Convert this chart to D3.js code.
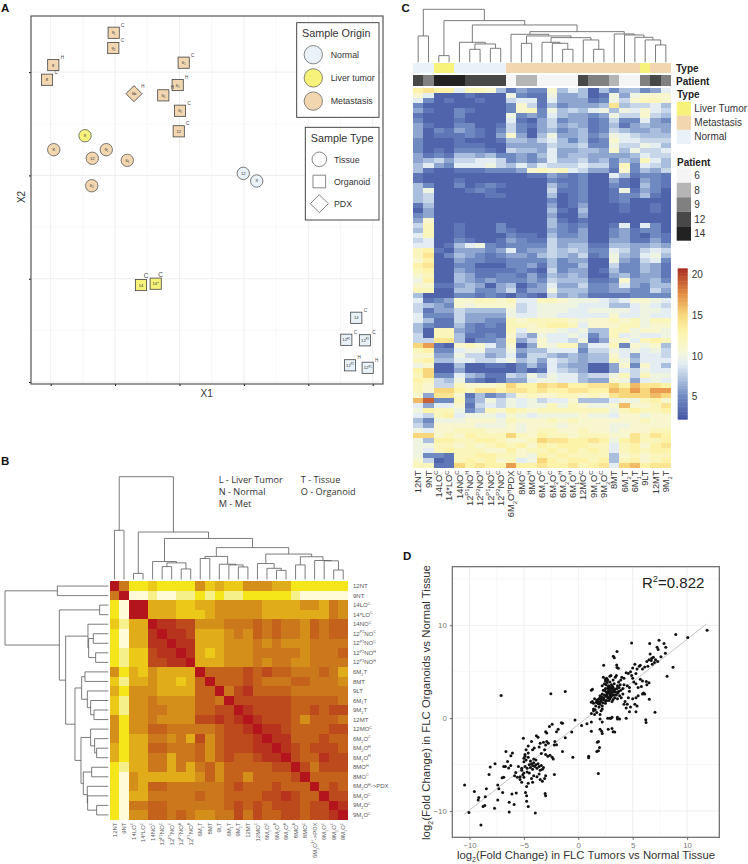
<!DOCTYPE html>
<html>
<head>
  <meta charset="utf-8">
  <title>FLC organoids figure</title>
  <script src="https://d3js.org/d3.v7.min.js"></script>
  <style>
    body { margin: 0; background: #fff; }
    text { font-family: "Liberation Sans", Arial, sans-serif; }
    .panel { font-size: 11.5px; font-weight: bold; fill: #111; }
    .tree { fill: none; stroke: #5a5a5a; stroke-width: 0.8; }
  </style>
</head>
<body>
<div id="chart"></div>
<script>
// ---- panel A: MDS scatter
const mdsTissue = [
  { label: "9", origin: "Liver tumor", x: 0.533, y: 2.384 },
  { label: "8", origin: "Metastasis", x: 0.047, y: 2.249 },
  { label: "12", origin: "Metastasis", x: 0.646, y: 2.166 },
  { label: "9_{1}", origin: "Metastasis", x: 0.863, y: 2.249 },
  { label: "6_{1}", origin: "Metastasis", x: 1.189, y: 2.146 },
  { label: "6_{2}", origin: "Metastasis", x: 0.637, y: 1.9 },
  { label: "12", origin: "Normal", x: 2.99, y: 2.02 },
  { label: "9", origin: "Normal", x: 3.199, y: 1.946 }
];
const mdsOrganoid = [
  { label: "9_{1}", sup: "C", origin: "Metastasis", x: 0.978, y: 3.381 },
  { label: "9_{2}", sup: "C", origin: "Metastasis", x: 0.972, y: 3.233 },
  { label: "8", sup: "H", origin: "Metastasis", x: 0.04, y: 3.068 },
  { label: "8", sup: "C", origin: "Metastasis", x: -0.057, y: 2.926 },
  { label: "6_{1}", sup: "C", origin: "Metastasis", x: 2.065, y: 3.091 },
  { label: "6_{1}", sup: "H", origin: "Metastasis", x: 1.972, y: 2.875 },
  { label: "6_{3}", sup: "H", origin: "Metastasis", x: 1.748, y: 2.775 },
  { label: "6_{2}", sup: "C", origin: "Metastasis", x: 2.008, y: 2.626 },
  { label: "12", sup: "C", origin: "Metastasis", x: 1.988, y: 2.427 },
  { label: "14", sup: "C", origin: "Liver tumor", x: 1.402, y: 0.939 },
  { label: "14*", sup: "C", origin: "Liver tumor", x: 1.63, y: 0.952 },
  { label: "14", sup: "C", origin: "Normal", x: 4.745, y: 0.622 },
  { label: "12^{P1}", sup: "C", origin: "Normal", x: 4.59, y: 0.409 },
  { label: "12^{P2}", sup: "C", origin: "Normal", x: 4.88, y: 0.404 },
  { label: "12^{P2}", sup: "H", origin: "Normal", x: 4.648, y: 0.162 },
  { label: "12^{P1}", sup: "H", origin: "Normal", x: 4.922, y: 0.138 }
];
const mdsPdx = [{ label: "6b", sup: "H", origin: "Metastasis", x: 1.293, y: 2.791 }];
const originNames = ["Normal", "Liver tumor", "Metastasis"];
const typeNames = ["Tissue", "Organoid", "PDX"];

// ---- panel B: correlation heatmap (levels 0 pale .. 10 dark red)
const corrLabels = ["12NT", "9NT", "14LO^{C}", "14*LO^{C}", "14NO^{C}", "12^{P2}NO^{C}", "12^{P1}NO^{C}", "12^{P2}NO^{H}", "12^{P1}NO^{H}",
  "6M_{2}T", "8MT", "9LT", "6M_{1}T", "9M_{2}T", "12MT", "12MO^{C}", "6M_{2}O^{C}", "6M_{2}O^{H}", "6M_{1}O^{H}", "8MO^{H}", "8MO^{C}",
  "6M_{2}O^{H}->PDX", "6M_{1}O^{C}", "9M_{2}O^{C}", "9M_{1}O^{C}"];
const corrLevels = [
  [10,6,2,2,3,2,2,2,2,5,3,4,3,3,5,5,5,4,4,2,2,2,2,2,2],
  [6,10,0,0,1,0,0,1,1,2,1,2,1,1,2,2,2,2,2,1,0,0,0,0,0],
  [2,0,10,10,4,4,4,3,3,4,4,5,5,5,5,5,4,4,4,4,5,5,4,6,5],
  [2,0,10,10,4,4,4,3,3,3,4,5,5,5,5,5,4,4,4,4,4,4,4,6,5],
  [3,1,4,4,10,9,9,8,8,5,5,5,6,6,6,7,6,7,6,6,5,7,6,7,7],
  [2,0,4,4,9,10,9,9,8,4,4,4,5,6,5,7,6,7,6,6,5,7,6,7,7],
  [2,0,4,4,9,9,10,9,9,4,4,4,5,5,5,6,5,6,5,5,5,6,6,6,6],
  [2,1,3,3,8,9,9,10,9,4,3,4,5,5,5,6,6,6,6,6,5,6,6,6,7],
  [2,1,3,3,8,8,9,9,10,4,4,4,5,5,5,6,5,6,6,5,5,6,6,6,6],
  [5,2,4,3,5,4,4,4,4,10,7,7,7,7,8,7,8,7,7,6,6,6,7,6,4],
  [3,1,4,4,5,4,4,3,4,7,10,7,7,7,8,7,6,6,6,7,7,6,6,6,5],
  [4,2,5,5,5,4,4,4,4,7,7,10,6,8,9,7,7,7,7,6,6,6,6,6,6],
  [3,1,5,5,6,5,5,5,5,7,7,6,10,8,8,8,8,8,8,7,7,7,7,7,6],
  [3,1,5,5,6,6,5,5,5,7,7,8,8,10,9,8,8,8,8,7,7,8,7,8,8],
  [5,2,5,5,6,5,5,5,5,8,8,9,8,9,10,9,8,8,8,7,5,7,7,7,6],
  [5,2,5,5,7,7,6,6,6,6,6,7,8,8,9,10,9,9,8,7,7,7,7,8,8],
  [5,2,4,4,6,6,5,6,4,8,5,7,8,8,8,9,10,9,9,7,7,7,8,7,7],
  [4,2,4,4,7,7,6,6,6,7,5,7,8,8,8,9,9,10,9,8,7,8,8,8,7],
  [4,2,4,4,6,6,4,6,6,7,5,7,8,7,7,8,9,9,10,8,7,7,9,8,8],
  [2,1,4,4,6,6,4,6,4,6,7,5,7,7,7,7,7,8,8,10,8,6,8,8,8],
  [2,0,5,4,4,4,4,4,4,5,7,5,7,7,5,7,7,7,7,8,10,7,7,7,7],
  [2,0,5,4,7,7,6,6,6,6,6,6,7,8,7,7,7,8,7,7,7,10,7,8,7],
  [2,0,4,4,6,6,6,6,6,7,6,6,7,7,7,7,8,8,9,8,7,7,10,8,8],
  [2,0,6,6,7,7,6,6,6,6,6,6,7,8,7,8,7,8,8,8,7,8,8,10,9],
  [2,0,5,5,7,7,6,7,6,5,5,6,6,8,6,8,7,7,8,8,7,8,8,9,10]
];
const corrColors = ["#fffbd8","#f5f08a","#f4e619","#ecc818","#e0ac1a","#d48f1b","#cb781c","#c4621c","#bd4a1c","#b7331d","#b4141c"];
// trees are [height, left, right], leaves are the column index
const corrTopTree = [303, [145, 0, 1], [140, [18, 2, 3], [121, [53, 4, [49, [38, 5, 6], [31, 7, 8]]],
  [94, [68, [62, 9, 10], [45, 11, [43, 12, [37, 13, 14]]]],
    [75, [47, 15, [33, 16, [27, 17, 18]]], [67, [43, 19, 20], [56, 21, [55, 22, [28, 23, 24]]]]]]]]];
const corrLeftTree = [310, [153, 0, 1], [147, [26, 2, 3], [128, [61, 4, [59, [45, 5, 6], [38, 7, 8]]],
  [100, [80, [70, 9, 10], [63, 11, [53, 12, [43, 13, 14]]]],
    [82, [53, 15, [41, 16, [35, 17, 18]]], [75, [50, 19, 20], [63, 21, [62, 22, [35, 23, 24]]]]]]]]];
const abbrevLeft = ["L - Liver Tumor", "N - Normal", "M - Met"];
const abbrevRight = ["T - Tissue", "O - Organoid"];

// ---- panel C: expression heatmap
const exprLabels = ["12NT", "9NT", "14LO^{C}", "14*LO^{C}", "14NO^{C}", "12^{P1}NO^{H}", "12^{P2}NO^{H}", "12^{P1}NO^{C}", "12^{P2}NO^{C}",
  "6M_{2}O^{H}PDX", "8MO^{C}", "8MO^{H}", "6M_{1}O^{C}", "6M_{2}O^{C}", "6M_{2}O^{H}", "6M_{1}O^{H}", "12MO^{C}", "9M_{1}O^{C}", "9M_{2}O^{C}",
  "8MT", "6M_{2}T", "6M_{1}T", "9LT", "12MT", "9M_{2}T"];
const exprType = ["Normal","Normal","Liver Tumor","Liver Tumor","Normal","Normal","Normal","Normal","Normal",
  "Metastasis","Metastasis","Metastasis","Metastasis","Metastasis","Metastasis","Metastasis","Metastasis","Metastasis","Metastasis",
  "Metastasis","Metastasis","Metastasis","Liver Tumor","Metastasis","Metastasis"];
const exprPatient = [12,9,14,14,14,12,12,12,12,6,8,8,6,6,6,6,12,9,9,8,6,6,9,12,9];
const exprTree = [159, [79, 0, 1], [125, [20, 2, 3], [112, [60, 4, [55, [39, 5, 6], [42, 7, 8]]],
  [92, [84, 9, [79, [57, 10, 11], [74, [60, 12, [57, 13, [39, 14, 15]]], [67, 16, [39, 17, 18]]]]],
    [85, 19, [82, 20, [75, 21, [67, 22, [52, 23, 24]]]]]]]]];
const typeLegend = ["Liver Tumor", "Metastasis", "Normal"];
const patientLegend = [6, 8, 9, 12, 14];
const colorbarTicks = [5, 10, 15, 20];
const exprRows = [
  [13,14,13,13,9,12,12,11,7,4,6,5,5,11,7,9,7,3,7,5,7,7,5,6,9],
  [11,9,3,3,3,4,3,3,3,10,5,4,4,10,6,6,7,3,4,10,6,10,11,11,11],
  [9,5,3,4,3,3,4,3,3,8,9,9,4,9,6,6,6,4,5,10,8,11,12,12,11],
  [5,3,3,3,3,3,3,3,3,5,11,8,4,7,5,6,6,6,7,14,7,8,8,9,7],
  [6,4,3,3,5,4,3,3,3,5,11,12,5,10,7,8,7,9,10,7,10,9,11,9,8],
  [4,3,3,3,5,3,3,3,3,10,5,6,5,9,7,6,6,5,6,10,8,8,11,8,7],
  [5,3,3,3,4,3,3,3,3,9,4,3,6,8,5,6,6,4,5,8,5,5,9,6,5],
  [6,4,3,3,5,5,3,3,4,8,5,4,6,8,6,7,6,4,5,7,4,6,7,6,6],
  [6,3,5,4,6,5,4,3,5,8,5,3,6,7,5,6,7,4,5,8,7,6,6,7,6],
  [6,3,4,4,4,5,4,3,6,11,6,3,7,10,6,6,7,5,6,10,9,8,7,7,7],
  [5,3,3,3,4,3,3,3,4,7,7,6,8,9,7,5,7,4,5,11,9,9,8,8,8],
  [5,3,3,3,4,4,4,3,3,6,6,6,6,8,7,7,8,5,5,10,8,8,10,9,7],
  [5,3,4,3,5,5,5,4,3,8,7,7,6,9,6,6,7,7,6,11,7,10,8,8,9],
  [6,4,5,4,7,7,6,7,5,5,6,5,7,9,6,7,7,6,6,6,6,7,9,8,8],
  [6,7,8,6,8,8,9,9,8,5,6,5,6,9,7,7,8,6,7,5,7,6,12,9,7],
  [7,9,6,5,9,9,9,10,8,7,9,7,9,8,8,8,9,8,8,5,12,5,9,8,7],
  [7,4,3,3,4,4,4,5,5,5,6,11,12,11,12,9,8,6,6,4,11,5,7,6,8],
  [4,3,3,3,3,3,3,3,3,3,3,4,4,6,5,4,5,3,3,9,7,4,5,5,4],
  [4,3,3,3,4,3,3,3,3,3,3,3,3,5,4,4,5,3,3,6,4,3,6,5,4],
  [7,5,3,3,5,3,4,5,4,3,3,3,3,7,5,4,5,3,3,5,4,3,7,5,4],
  [7,10,3,3,3,4,5,4,3,3,3,3,3,8,4,4,5,3,3,4,10,4,6,5,3],
  [7,8,3,3,3,3,3,4,4,3,3,3,3,7,3,4,5,3,3,4,5,5,7,4,3],
  [7,8,3,3,3,3,3,3,3,3,3,3,3,5,3,4,5,3,3,4,5,3,3,3,3],
  [4,7,3,3,3,3,3,3,3,3,3,3,3,6,3,4,6,3,3,3,4,3,3,4,3],
  [3,6,3,3,3,3,3,3,3,3,3,3,3,7,4,3,7,3,3,3,4,3,3,4,3],
  [5,6,3,3,3,3,3,3,3,3,3,3,3,6,3,3,6,3,3,3,3,3,3,3,3],
  [6,11,3,3,3,3,3,3,3,3,3,3,3,7,4,3,4,3,3,3,3,3,3,3,3],
  [8,12,3,3,4,3,3,3,5,3,3,3,3,7,5,4,5,3,3,4,9,3,9,5,3],
  [7,12,3,3,4,3,3,3,5,4,3,3,3,6,5,4,6,3,3,5,6,4,5,5,3],
  [9,12,3,3,4,3,3,3,3,5,4,4,3,7,5,5,6,3,3,5,6,4,3,5,4],
  [8,9,3,3,5,4,3,3,4,6,5,4,4,8,6,6,6,3,3,6,6,4,4,6,4],
  [9,9,3,4,7,9,10,5,4,5,5,5,5,8,6,7,7,4,4,7,7,6,6,7,6],
  [12,13,4,3,6,6,6,5,6,9,5,6,6,8,7,8,7,5,5,9,8,6,8,9,8],
  [12,14,3,5,7,6,5,4,5,6,6,5,7,8,7,6,8,4,5,10,7,6,9,10,7],
  [11,13,3,3,6,5,5,4,4,5,5,5,5,7,5,6,6,3,3,10,6,5,8,9,5],
  [13,14,3,3,5,5,3,3,3,5,5,6,4,7,5,5,7,3,3,8,5,5,7,6,4],
  [12,13,3,3,6,5,4,4,4,4,5,4,3,8,5,6,6,3,4,7,5,5,7,6,4],
  [11,12,3,3,7,6,4,4,5,5,4,6,4,7,6,7,6,3,3,6,7,5,6,6,4],
  [10,13,3,3,7,6,5,6,5,5,5,6,5,8,7,7,7,4,4,5,11,6,6,7,5],
  [11,11,4,4,6,7,6,3,6,7,3,5,6,9,6,6,8,5,5,6,9,6,5,7,7],
  [12,12,3,3,7,7,5,5,6,8,4,6,6,10,7,7,7,5,5,6,6,5,5,8,6],
  [7,3,3,3,5,5,4,5,4,3,5,4,3,8,6,7,6,4,4,4,4,5,5,5,5],
  [9,4,5,6,11,11,12,12,11,12,9,9,12,12,11,10,10,10,9,8,9,11,11,10,9],
  [8,7,6,5,11,10,11,11,11,11,8,9,10,10,10,10,9,9,9,7,7,9,10,9,8],
  [8,4,6,6,8,7,7,7,7,10,8,9,10,10,10,9,9,10,10,10,10,9,10,10,9],
  [9,5,5,5,8,6,6,6,6,10,9,9,10,10,9,9,9,9,9,11,9,9,10,9,9],
  [9,7,4,4,8,6,6,5,5,12,11,12,12,12,12,11,10,11,11,12,11,12,10,12,12],
  [7,5,4,4,7,5,4,5,4,12,12,11,12,13,13,12,9,11,11,11,12,12,10,11,11],
  [7,3,12,12,6,5,4,4,4,12,9,11,11,11,10,9,10,7,7,12,12,10,11,11,10],
  [8,3,12,12,7,4,4,5,4,11,8,6,10,9,9,10,9,5,7,12,9,10,9,9,10],
  [8,8,14,14,7,3,5,5,6,12,6,8,11,9,9,8,10,4,6,11,11,9,12,13,12],
  [15,17,4,3,11,12,11,9,6,11,3,6,11,10,12,12,6,9,9,12,5,11,10,11,7],
  [12,13,5,5,9,10,10,7,7,10,6,7,7,9,9,9,5,8,8,10,9,10,9,10,8],
  [11,11,6,6,10,8,8,6,7,9,5,8,8,7,6,7,6,7,7,11,9,6,9,9,8],
  [12,13,7,7,9,9,8,8,9,10,7,8,6,9,8,7,6,7,7,12,10,7,9,9,9],
  [10,11,3,3,7,3,3,4,4,3,5,7,5,9,7,6,6,3,3,6,11,5,11,9,7],
  [13,15,3,3,6,3,3,3,3,3,5,3,4,9,8,7,6,3,3,6,9,8,10,9,9],
  [12,15,5,5,9,7,6,4,4,8,7,10,8,10,9,9,7,8,8,10,12,8,12,10,10],
  [13,12,8,7,10,5,4,3,4,6,6,9,10,10,9,9,7,6,6,11,10,6,9,10,9],
  [12,11,8,8,12,11,11,11,12,15,13,13,15,14,15,13,13,14,14,15,13,16,14,14,13],
  [12,11,15,15,13,12,14,14,13,14,14,13,14,13,13,14,14,13,13,16,15,17,15,17,17],
  [11,6,14,14,11,4,7,5,6,8,11,12,11,11,12,12,11,12,11,14,15,15,15,16,15],
  [16,19,5,5,12,5,7,10,8,10,9,10,8,9,9,11,7,7,7,9,10,10,12,13,11],
  [9,6,9,9,11,4,8,9,8,10,9,10,10,12,10,12,11,10,10,11,16,11,11,12,14],
  [10,13,12,12,10,5,7,12,11,13,12,11,12,12,12,12,12,12,12,10,12,13,12,12,13],
  [9,8,12,13,9,10,10,10,9,11,10,9,10,10,10,10,11,10,10,9,11,11,10,11,11],
  [7,5,10,10,10,11,11,11,10,12,11,11,11,12,11,12,11,11,11,11,11,11,12,11,11],
  [8,6,11,11,11,11,10,10,10,11,10,11,11,11,10,11,11,11,11,10,10,11,11,11,11],
  [10,9,11,11,12,12,12,11,11,11,10,11,12,12,11,11,12,11,11,10,11,11,11,12,12],
  [15,15,11,12,11,13,12,12,12,15,12,11,13,12,12,11,12,12,12,11,11,14,12,14,13],
  [10,7,13,13,12,12,13,13,12,11,11,12,15,14,14,13,13,14,13,10,13,14,12,12,13],
  [10,10,12,12,11,12,11,12,13,12,13,11,13,12,13,13,13,12,12,9,12,13,11,13,14],
  [10,9,12,13,12,12,12,11,11,13,11,12,12,13,12,13,12,13,12,9,12,13,12,13,13],
  [10,5,5,4,12,12,13,13,12,12,11,10,13,12,13,12,12,12,12,7,11,12,11,12,12],
  [11,8,3,4,12,13,12,13,11,12,9,10,15,13,12,13,13,12,13,7,12,13,11,12,13],
  [12,12,4,4,15,13,14,13,13,17,13,13,14,13,13,14,12,13,14,9,15,16,13,14,14]
];

// ---- panel D: fold change scatter, [tumor, organoid]
const foldChange = [
  [11.84,9.46],[10.06,8.67],[8.96,9.0],[7.42,8.39],[6.56,8.03],[4.9,8.1],[7.88,8.03],[8.04,7.63],[7.24,7.63],[7.34,7.38],[8.0,6.99],[8.71,5.48],[8.16,4.52],
  [3.56,7.17],[3.22,6.67],[3.31,6.49],[2.33,5.7],[3.53,5.73],[3.56,5.45],[3.68,5.38],[-7.09,2.44],[-2.52,2.62],[-1.2,2.87],[7.05,0.65],[6.2,-0.18],[6.23,-0.47],[6.53,2.04],[1.84,-5.95],
  [6.75,6.45],[6.9,6.56],[6.6,6.9],[6.5,6.3],[6.3,6.1],[6.7,6.2],[7.1,6.3],[7.0,6.0],[6.4,5.6],[6.1,5.5],[5.9,5.3],[6.8,5.8],[7.3,6.1],[7.6,6.6],
  [1.2,1.7],[1.3,1.8],[1.4,1.6],[1.2,3.0],[1.3,3.1],[1.5,2.1],[1.4,1.0],[1.2,0.5],[1.5,0.4],[1.4,0.8],[1.6,1.3],[1.7,1.9],[1.8,2.0],[1.9,1.7],[2.0,2.4],[2.1,2.1],[2.0,1.5],[1.9,1.2],[2.1,1.8],[2.2,2.6],
  [2.3,2.0],[2.3,3.0],[2.2,3.5],[2.4,3.7],[2.5,4.2],[2.6,4.3],[2.5,3.2],[2.6,2.8],[2.4,2.5],[2.7,2.2],[2.6,1.9],[2.5,1.6],[2.8,1.9],[2.9,2.5],[2.7,3.2],[2.8,3.5],[2.9,3.9],[3.0,4.6],[2.7,4.1],[2.9,4.5],
  [3.1,3.2],[3.2,2.8],[3.0,2.3],[3.1,1.8],[3.2,2.0],[3.3,2.5],[3.4,3.1],[3.3,3.7],[3.4,4.4],[3.5,4.6],[3.6,3.5],[3.7,2.9],[3.5,2.5],[3.6,2.1],[3.8,2.4],[3.9,3.0],[3.7,3.9],[3.9,4.1],[4.0,4.4],[4.1,3.2],
  [4.2,3.6],[4.1,2.6],[4.3,1.8],[4.5,1.5],[4.4,1.1],[4.6,2.2],[4.7,2.9],[4.5,3.5],[4.4,4.9],[4.6,4.8],[4.8,5.0],[4.9,4.6],[5.0,5.4],[5.0,4.3],[5.1,3.9],[5.2,5.8],[5.3,4.8],[5.4,5.3],[5.3,3.7],[5.5,3.3],
  [5.6,5.6],[5.7,5.7],[5.8,3.4],[5.9,4.0],[6.0,2.7],[6.1,2.6],[5.9,2.6],[5.5,2.4],[5.3,2.2],[5.0,2.1],[5.2,1.5],[5.4,1.3],[5.3,0.7],[4.8,1.2],[4.7,0.7],[4.2,1.5],[4.4,0.0],[3.6,-0.1],[3.8,-0.1],[3.0,0.0],
  [2.9,0.0],[3.1,0.1],[2.7,0.0],[3.6,0.1],[2.1,0.8],[2.0,0.4],[2.2,1.0],[2.0,-0.1],[2.2,-0.4],[6.3,3.6],[6.5,3.8],[6.25,3.95],[5.7,4.2],[4.7,3.3],[4.2,4.3],[3.2,4.1],[2.45,2.95],[2.55,2.35],[2.65,2.6],[2.75,2.9],
  [2.85,3.1],[2.95,2.85],[3.05,2.6],[3.15,3.4],[3.25,3.0],[2.35,2.2],[2.15,2.3],[2.05,1.95],[1.95,2.15],[1.85,1.55],[1.75,1.65],[1.65,1.7],[2.25,1.65],[2.45,1.9],[2.55,3.6],[2.65,3.85],[2.75,3.4],[2.85,2.7],[2.95,3.3],[3.05,3.6],
  [3.35,2.2],[3.45,2.8],[3.55,3.2],[3.65,2.7],[3.75,3.3],[3.85,3.6],[3.95,2.2],[2.3,4.4],[2.5,4.0],[2.2,1.3],[1.55,0.9],[1.7,0.6],[2.6,2.45],[2.7,2.75],[2.8,2.25],[2.9,2.1],[3.0,2.95],[3.1,2.45],[3.2,3.3],[3.3,2.9],
  [1.2,-0.4],[1.2,-1.4],[2.0,-1.2],[2.15,-1.4],[2.2,-1.65],[2.75,-1.2],[3.1,-1.1],[3.2,-1.45],[3.35,-1.5],[1.75,-2.6],[1.85,-2.5],[1.95,-3.15],[1.7,-3.6],[1.85,-3.5],[0.95,-4.1],[0.95,-4.25],[-0.5,-4.2],[0.8,-0.6],[0.3,-0.8],[-0.3,-0.2],
  [-0.6,-1.5],[-1.2,-2.1],[-1.45,-0.55],[-1.55,-0.5],[-1.45,-3.6],
  [-10.45,-7.2],[-10.05,-10.15],[-9.55,-7.9],[-9.15,-8.55],[-9.2,-8.8],[-8.95,-11.5],[-8.75,-9.5],[-8.6,-9.4],[-8.55,-8.45],[-8.45,-7.6],[-8.2,-6.05],[-8.1,-5.25],[-7.65,-4.9],[-7.7,-9.7],[-7.4,-8.8],[-7.4,-7.2],[-7.3,-7.6],[-6.95,-8.0],[-7.0,-6.4],[-6.85,-6.35],
  [-6.85,-5.2],[-6.7,-5.2],[-6.65,-3.6],[-6.5,-4.65],[-6.4,-5.35],[-6.35,-10.1],[-6.35,-9.05],[-6.2,-5.1],[-6.2,-4.05],[-6.05,-3.75],[-5.9,-9.3],[-5.7,-8.05],[-6.1,-8.15],[-5.75,-5.85],[-5.85,-6.2],[-5.6,-6.35],[-5.35,-6.6],[-5.35,-6.3],[-5.2,-6.9],[-5.1,-6.1],
  [-5.0,-6.35],[-5.05,-2.15],[-4.8,-3.4],[-4.6,-3.75],[-4.9,-4.1],[-5,-4.3],[-4.8,-4.5],[-4.6,-7.0],[-4.75,-7.35],[-4.85,-8.0],[-4.75,-8.35],[-4.75,-8.95],[-4.6,-9.5],[-3.95,-10.2],[-4.3,-2.5],[-4.2,-3.4],[-4.05,-3.2],[-3.85,-1.9],[-3.7,-2.05],[-3.5,-2.7],
  [-3.0,-1.45],[-2.9,-1.6],[-2.65,-0.9],[-2.4,-0.65],[-2.0,-1.45],[-1.85,-1.2],[-2.9,-2.5],[-2.75,-2.7],[-2.15,-2.5],[-2,-2.85],[-3.05,-8.1],[-3.0,-8.35],[-2.2,-6.05],
  [-4.9,-5.2],[-4.7,-5.4],[-4.5,-5.0],[-4.4,-5.3],[-4.3,-4.9],[-4.2,-5.1],[-4.2,-5.5],[-4.1,-4.8],[-4.0,-5.2],[-3.9,-5.0],[-3.8,-5.4],[-3.7,-4.9],[-3.9,-4.5],[-4.1,-4.4],[-4.4,-4.6],[-3.6,-5.2],[-3.5,-5.6],[-3.4,-5.1],[-3.3,-5.5],[-3.2,-5.3],
  [-3.6,-6.0],[-3.8,-6.3],[-4.1,-6.2],[-4.3,-6.5],[-3.5,-6.6],[-3.3,-6.8],[-3.1,-6.5],[-3.0,-6.2],[-4.2,-6.9],[-5.5,-5.2],[-5.2,-5.6],[-5.0,-5.9],[-4.7,-5.8],[-4.5,-5.9],[-3.0,-3.9],[-2.8,-4.1],[-2.6,-4.0],[-2.4,-4.2],[-2.3,-4.4],[-3.1,-3.4],
  [-3.4,-3.8],[-3.6,-3.1],[-3.2,-2.6],[-3.0,-2.9],[-2.2,-2.9],[-4.6,-4.2],[-5.0,-4.7],[-5.2,-5.4],[-4.9,-3.9],[-4.6,-3.0]
];
const fitLine = [[-10.5, -10.35], [11.8, 10.15]];

const originColor = d3.scaleOrdinal().domain(originNames).range(["#e8f2f8", "#f7f27a", "#f2d6b0"]);
const svg = d3.select("#chart").append("svg").attr("width", 748).attr("height", 864);

// writes "a_{b}c^{d}" as text with sub and superscripts
function richText(sel, str, small) {
  const parts = str.split(/([_^]\{[^}]*\})/).filter(s => s.length);
  let shift = 0;
  parts.forEach(p => {
    const m = p.match(/^([_^])\{(.*)\}$/);
    const t = sel.append("tspan");
    if (m) {
      const d = (m[1] === "^" ? -0.4 : 0.3) * small;
      t.attr("dy", d - shift).attr("font-size", small * 0.62).text(m[2]);
      shift = d;
    } else {
      t.attr("dy", -shift).text(p);
      shift = 0;
    }
  });
}

// tree = [height, left, right] in px-like units, pos(leaf), base(height)
function drawTree(g, tree, pos, base, vertical) {
  if (!Array.isArray(tree)) return { p: pos(tree), h: 0 };
  const a = drawTree(g, tree[1], pos, base, vertical);
  const b = drawTree(g, tree[2], pos, base, vertical);
  const h = tree[0];
  const pts = [[a.p, a.h], [a.p, h], [b.p, h], [b.p, b.h]];
  const line = d3.line().x(d => vertical ? d[0] : base(d[1])).y(d => vertical ? base(d[1]) : d[0]);
  g.append("path").attr("class", "tree").attr("d", line(pts));
  return { p: (a.p + b.p) / 2, h: h };
}

function panelLabel(t, x, y) {
  svg.append("text").attr("class", "panel").attr("x", x).attr("y", y).text(t);
}

// ---------- A
function drawA() {
  panelLabel("A", 1, 12);
  const x = d3.scaleLinear().domain([-0.306, 5.16]).range([31, 383]);
  const y = d3.scaleLinear().domain([-0.019, 3.543]).range([384, 16]);
  const g = svg.append("g");
  const xs = d3.range(0, 5.5, 0.5), ys = d3.range(0, 3.5, 0.5);
  g.selectAll(".vg").data(xs).join("line").attr("x1", d => x(d)).attr("x2", d => x(d)).attr("y1", 16).attr("y2", 384)
    .attr("stroke", "#eeeeee").attr("stroke-width", d => d % 1 ? 0.5 : 1);
  g.selectAll(".hg").data(ys).join("line").attr("y1", d => y(d)).attr("y2", d => y(d)).attr("x1", 31).attr("x2", 383)
    .attr("stroke", "#eeeeee").attr("stroke-width", d => d % 1 ? 0.5 : 1);
  g.append("g").attr("transform", "translate(0,384)").call(d3.axisBottom(x).tickValues(d3.range(0, 6)).tickSize(2).tickFormat(""))
    .call(a => a.select(".domain").remove());
  g.append("g").attr("transform", "translate(31,0)").call(d3.axisLeft(y).tickValues(d3.range(0, 4)).tickSize(2).tickFormat(""))
    .call(a => a.select(".domain").remove());
  g.append("rect").attr("x", 31).attr("y", 16).attr("width", 352).attr("height", 368).attr("fill", "none").attr("stroke", "#555").attr("stroke-width", 1.2);

  function marks(data, draw) {
    const s = g.append("g").selectAll("g").data(data).join("g").attr("transform", d => `translate(${x(d.x)},${y(d.y)})`);
    draw(s);
    s.append("text").attr("text-anchor", "middle").attr("y", 1.5).attr("font-size", 4.2).attr("fill", "#333")
      .each(function (d) { richText(d3.select(this), d.label, 4.2); });
    s.filter(d => d.sup).append("text").text(d => d.sup)
      .attr("x", d => d.origin === "Liver tumor" ? 5 : 9).attr("y", d => d.origin === "Liver tumor" ? -7 : -6)
      .attr("text-anchor", "middle").attr("fill", "#444").attr("font-size", d => d.origin === "Liver tumor" ? 6.5 : 4.5);
  }
  marks(mdsTissue, s => s.append("circle").attr("r", 6.2).attr("fill", d => originColor(d.origin)).attr("stroke", "#444").attr("stroke-width", 0.7));
  marks(mdsOrganoid, s => s.append("rect").attr("x", -5.6).attr("y", -5.6).attr("width", 11.2).attr("height", 11.2)
    .attr("fill", d => originColor(d.origin)).attr("stroke", "#444").attr("stroke-width", 0.8));
  marks(mdsPdx, s => s.append("path").attr("d", d3.symbol(d3.symbolSquare, 128)()).attr("transform", "rotate(45)")
    .attr("fill", d => originColor(d.origin)).attr("stroke", "#444").attr("stroke-width", 0.8));

  // legends
  const l1 = svg.append("g");
  l1.append("rect").attr("x", 296.7).attr("y", 22.7).attr("width", 82.3).attr("height", 94.6).attr("fill", "#fff").attr("stroke", "#333").attr("stroke-width", 0.9);
  l1.append("text").attr("x", 302).attr("y", 36.5).attr("font-size", 10.8).attr("fill", "#333").text("Sample Origin");
  originNames.forEach((n, i) => {
    const cy = 54.7 + i * 23.2;
    l1.append("circle").attr("cx", 313.3).attr("cy", cy).attr("r", 9.2).attr("fill", originColor(n)).attr("stroke", "#555").attr("stroke-width", 0.7);
    l1.append("text").attr("x", 330.7).attr("y", cy + 3.2).attr("font-size", 8.8).attr("fill", "#333").text(n);
  });
  const l2 = svg.append("g");
  l2.append("rect").attr("x", 305.3).attr("y", 127.3).attr("width", 73.7).attr("height", 92.7).attr("fill", "#fff").attr("stroke", "#333").attr("stroke-width", 0.9);
  l2.append("text").attr("x", 310.7).attr("y", 141.5).attr("font-size", 10.8).attr("fill", "#333").text("Sample Type");
  typeNames.forEach((n, i) => {
    const cy = 159.3 + i * 22.2;
    const sym = i === 0 ? d3.symbol(d3.symbolCircle, 168) : d3.symbol(d3.symbolSquare, i === 1 ? 160 : 162);
    l2.append("path").attr("d", sym()).attr("transform", `translate(319.3,${cy}) rotate(${i === 2 ? 45 : 0})`)
      .attr("fill", "#fff").attr("stroke", "#555").attr("stroke-width", 0.7);
    l2.append("text").attr("x", 334).attr("y", cy + 3.2).attr("font-size", 8.8).attr("fill", "#333").text(n);
  });
  svg.append("text").attr("x", 206.7).attr("y", 397).attr("text-anchor", "middle").attr("font-size", 10).attr("fill", "#333").text("X1");
  svg.append("text").attr("transform", "translate(24.5,197) rotate(-90)").attr("text-anchor", "middle").attr("font-size", 10).attr("fill", "#333").text("X2");
}

// ---------- B
function drawB() {
  panelLabel("B", 1, 464.5);
  const band = d3.scaleBand().domain(d3.range(25)).range([109.7, 348]);
  const rowBand = d3.scaleBand().domain(d3.range(25)).range([581.3, 819.7]);
  const col = d3.scaleThreshold().domain(d3.range(1, 11)).range(corrColors);
  const g = svg.append("g");
  corrLevels.forEach((row, r) => {
    g.append("g").selectAll("rect").data(row).join("rect")
      .attr("x", (d, c) => band(c)).attr("y", rowBand(r)).attr("width", band.bandwidth()).attr("height", rowBand.bandwidth())
      .attr("fill", d => col(d)).attr("shape-rendering", "crispEdges");
  });
  const mid = i => band(i) + band.bandwidth() / 2;
  const midRow = i => rowBand(i) + rowBand.bandwidth() / 2;
  const top = d3.scaleLinear().domain([0, 303]).range([579.5, 476.7]);
  drawTree(svg.append("g"), corrTopTree, mid, top, true);
  const left = d3.scaleLinear().domain([0, 310]).range([108.3, 5]);
  drawTree(svg.append("g"), corrLeftTree, midRow, left, false);
  const fs = 6;
  corrLabels.forEach((lab, i) => {
    const t = svg.append("text").attr("x", 353).attr("y", midRow(i) + 2.1).attr("font-size", fs).attr("fill", "#555");
    richText(t, lab, fs);
    const b = svg.append("text").attr("transform", `translate(${mid(i) + 2.1},822.5) rotate(-90)`).attr("text-anchor", "end").attr("font-size", fs).attr("fill", "#555");
    richText(b, lab, fs);
  });
  abbrevLeft.forEach((t, i) => svg.append("text").attr("x", 218.7).attr("y", 483 + i * 12).attr("font-size", 9.2)
    .style("font-family", "'Open Sans'").attr("fill", "#333").text(t));
  abbrevRight.forEach((t, i) => svg.append("text").attr("x", 300.7).attr("y", 483 + i * 12).attr("font-size", 9.2)
    .style("font-family", "'Open Sans'").attr("fill", "#333").text(t));
}

// ---------- C
function drawC() {
  panelLabel("C", 401.5, 12);
  const band = d3.scaleBand().domain(d3.range(25)).range([413, 671]);
  const rowBand = d3.scaleBand().domain(d3.range(exprRows.length)).range([88.3, 468]);
  const heat = d3.scaleLinear().domain([2.2, 5, 7, 9, 10.5, 13, 15, 17.5, 20.8])
    .range(["#4355a4", "#6f8ac1", "#aabfdd", "#e3edf2", "#f5f7d8", "#fdf3a8", "#f8d77c", "#e48f45", "#a62a1f"]);
  const typeColor = d3.scaleOrdinal().domain(typeLegend).range(["#f7f27a", "#f2d6b0", "#e8f2f8"]);
  const patientColor = d3.scaleOrdinal().domain(patientLegend).range(["#f5f5f5", "#b5b5b5", "#808080", "#484848", "#222222"]);
  const g = svg.append("g");
  exprRows.forEach((row, r) => {
    g.append("g").selectAll("rect").data(row).join("rect")
      .attr("x", (d, c) => band(c)).attr("y", rowBand(r)).attr("width", band.bandwidth()).attr("height", rowBand.bandwidth())
      .attr("fill", d => heat(d)).attr("shape-rendering", "crispEdges");
  });
  const mid = i => band(i) + band.bandwidth() / 2;
  const top = d3.scaleLinear().domain([0, 159]).range([62.3, 9.3]);
  drawTree(svg.append("g"), exprTree, mid, top, true);
  svg.append("g").selectAll("rect").data(exprType).join("rect").attr("x", (d, i) => band(i)).attr("y", 62.7).attr("width", band.bandwidth()).attr("height", 10.6)
    .attr("fill", d => typeColor(d)).attr("shape-rendering", "crispEdges");
  svg.append("g").selectAll("rect").data(exprPatient).join("rect").attr("x", (d, i) => band(i)).attr("y", 75.3).attr("width", band.bandwidth()).attr("height", 10.7)
    .attr("fill", d => patientColor(d)).attr("shape-rendering", "crispEdges");
  const bold = (t, x, y) => svg.append("text").attr("x", x).attr("y", y).attr("font-size", 10).attr("font-weight", "bold").attr("fill", "#222").text(t);
  bold("Type", 676, 71.5); bold("Patient", 676, 84.5); bold("Type", 677, 98); bold("Patient", 677, 166);
  const sw = d3.scaleBand().domain(typeLegend).range([101.7, 144]);
  typeLegend.forEach(t => {
    svg.append("rect").attr("x", 676.7).attr("y", sw(t)).attr("width", 14.3).attr("height", sw.bandwidth()).attr("fill", typeColor(t));
    svg.append("text").attr("x", 694.3).attr("y", sw(t) + 10.5).attr("font-size", 10).attr("fill", "#333").text(t);
  });
  const sp = d3.scaleBand().domain(patientLegend).range([168.3, 240.7]);
  patientLegend.forEach(t => {
    svg.append("rect").attr("x", 676.7).attr("y", sp(t)).attr("width", 14.3).attr("height", sp.bandwidth()).attr("fill", patientColor(t));
    svg.append("text").attr("x", 694.3).attr("y", sp(t) + 11).attr("font-size", 10).attr("fill", "#333").text(t);
  });
  // colour bar
  const cb = d3.scaleLinear().domain([2.2, 20.8]).range([419.3, 268.3]);
  svg.append("g").selectAll("rect").data(d3.range(2.2, 20.8, 0.2)).join("rect")
    .attr("x", 677.7).attr("y", d => cb(d + 0.2)).attr("width", 10).attr("height", d => cb(d) - cb(d + 0.2) + 0.4).attr("fill", d => heat(d));
  colorbarTicks.forEach(t => svg.append("text").attr("x", 691.7).attr("y", cb(t) + 3.6).attr("font-size", 10).attr("fill", "#333").text(t));
  const fs = 9.3;
  exprLabels.forEach((lab, i) => {
    const b = svg.append("text").attr("transform", `translate(${mid(i) + 3.2},470.5) rotate(-90)`).attr("text-anchor", "end").attr("font-size", fs).attr("fill", "#333");
    richText(b, lab, fs);
  });
}

// ---------- D
function drawD() {
  panelLabel("D", 403, 559.5);
  const x = d3.scaleLinear().domain([-11.58, 12.96]).range([452.3, 719.3]);
  const y = d3.scaleLinear().domain([-12.82, 16.3]).range([837.3, 566.7]);
  const g = svg.append("g");
  const xMajor = [-10, -5, 0, 5, 10], yMajor = [-10, 0, 10];
  g.selectAll(".vg").data(d3.range(-10, 12.5, 2.5)).join("line").attr("x1", d => x(d)).attr("x2", d => x(d)).attr("y1", 566.7).attr("y2", 837.3)
    .attr("stroke", "#eeeeee").attr("stroke-width", d => d % 5 ? 0.5 : 1);
  g.selectAll(".hg").data(d3.range(-10, 20, 5)).join("line").attr("y1", d => y(d)).attr("y2", d => y(d)).attr("x1", 452.3).attr("x2", 719.3)
    .attr("stroke", "#eeeeee").attr("stroke-width", d => d % 10 ? 0.5 : 1);
  const ax = g.append("g").attr("transform", "translate(0,837.3)").call(d3.axisBottom(x).tickValues(xMajor).tickSize(2.5));
  const ay = g.append("g").attr("transform", "translate(452.3,0)").call(d3.axisLeft(y).tickValues(yMajor).tickSize(2.5));
  [ax, ay].forEach(a => {
    a.select(".domain").remove();
    a.selectAll("text").attr("font-size", 7.8).attr("fill", "#777").style("font-family", "'Liberation Sans'");
    a.selectAll("line").attr("stroke", "#666");
  });
  g.append("path").attr("fill", "none").attr("stroke", "#bcbcbc").attr("stroke-width", 0.9)
    .attr("d", d3.line().x(d => x(d[0])).y(d => y(d[1]))(fitLine));
  g.selectAll("circle").data(foldChange).join("circle").attr("cx", d => x(d[0])).attr("cy", d => y(d[1])).attr("r", 1.5).attr("fill", "#111");
  g.append("rect").attr("x", 452.3).attr("y", 566.7).attr("width", 267).attr("height", 270.6).attr("fill", "none").attr("stroke", "#666").attr("stroke-width", 1.2);
  const r2 = svg.append("text").attr("x", 642).attr("y", 587.5).attr("font-size", 15).attr("fill", "#222");
  richText(r2, "R^{2}=0.822", 15);
  const xl = svg.append("text").attr("x", 586).attr("y", 859).attr("text-anchor", "middle").attr("font-size", 11.3).attr("fill", "#333");
  richText(xl, "log_{2}(Fold Change) in FLC Tumors vs Normal Tissue", 11.3);
  const yl = svg.append("text").attr("transform", "translate(430,702.5) rotate(-90)").attr("text-anchor", "middle").attr("font-size", 11.4).attr("fill", "#333");
  richText(yl, "log_{2}(Fold Change) in FLC Organoids vs Normal Tissue", 11.4);
}

drawA();
drawB();
drawC();
drawD();
</script>
</body>
</html>
